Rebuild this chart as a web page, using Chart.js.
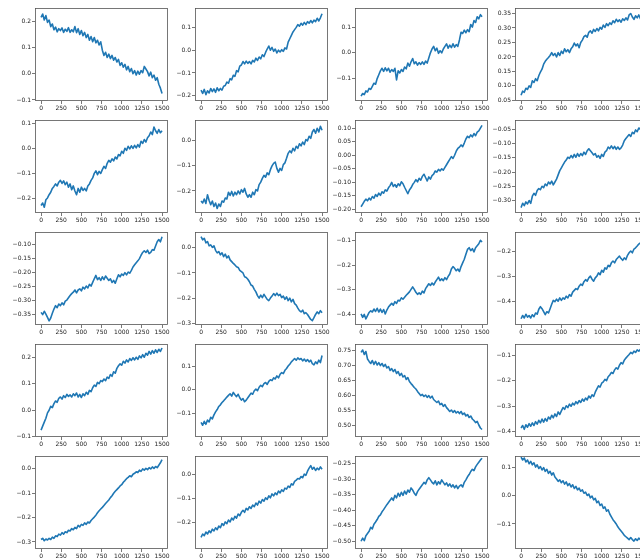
<!DOCTYPE html>
<html>
<head>
<meta charset="utf-8">
<script src="https://cdn.jsdelivr.net/npm/chart.js@4.4.1/dist/chart.umd.min.js"></script>
<style>
  html, body { margin: 0; padding: 0; background: #fff; overflow: hidden; width: 640px; height: 560px; }
  #grid { position: relative; width: 640px; height: 560px; overflow: hidden; }
  #grid canvas { position: absolute; }
</style>
</head>
<body>
<div id="grid"></div>
<script>
// Sample positions shared by every panel (0 … 1500, every 20 steps)
const steps = [
  0,20,40,60,80,100,120,140,160,180,
  200,220,240,260,280,300,320,340,360,380,
  400,420,440,460,480,500,520,540,560,580,
  600,620,640,660,680,700,720,740,760,780,
  800,820,840,860,880,900,920,940,960,980,
  1000,1020,1040,1060,1080,1100,1120,1140,1160,1180,
  1200,1220,1240,1260,1280,1300,1320,1340,1360,1380,
  1400,1420,1440,1460,1480,1500
];
const xTicks = [0, 250, 500, 750, 1000, 1250, 1500];

// Row 1
const runA = [
  0.215,0.228,0.205,0.222,0.196,0.205,0.18,0.19,0.168,0.178,
  0.16,0.172,0.165,0.175,0.158,0.17,0.162,0.176,0.158,0.168,
  0.16,0.18,0.157,0.172,0.15,0.165,0.145,0.158,0.138,0.15,
  0.128,0.142,0.122,0.138,0.118,0.128,0.11,0.122,0.09,0.07,
  0.082,0.062,0.075,0.058,0.07,0.052,0.062,0.045,0.055,0.032,
  0.042,0.025,0.036,0.015,0.028,0.008,0.02,0.0,0.012,-0.005,
  0.01,-0.002,0.012,0.004,0.028,0.018,0.008,-0.008,0.006,-0.015,
  -0.005,-0.025,-0.015,-0.04,-0.055,-0.075
];
const runB = [
  -0.175,-0.19,-0.172,-0.195,-0.178,-0.188,-0.168,-0.182,-0.17,-0.185,
  -0.165,-0.178,-0.168,-0.175,-0.158,-0.155,-0.14,-0.145,-0.125,-0.13,
  -0.11,-0.115,-0.09,-0.095,-0.07,-0.065,-0.05,-0.06,-0.048,-0.058,
  -0.05,-0.06,-0.045,-0.052,-0.035,-0.045,-0.03,-0.038,-0.02,-0.028,
  -0.01,0.005,0.018,0.0,0.012,-0.005,0.005,-0.012,0.0,-0.008,
  0.002,-0.005,0.01,0.005,0.035,0.05,0.065,0.08,0.09,0.1,
  0.112,0.105,0.118,0.11,0.122,0.112,0.125,0.118,0.13,0.12,
  0.132,0.125,0.14,0.128,0.142,0.16
];
const runC = [
  -0.168,-0.158,-0.162,-0.148,-0.152,-0.138,-0.142,-0.13,-0.118,-0.122,
  -0.1,-0.085,-0.07,-0.06,-0.072,-0.058,-0.07,-0.06,-0.075,-0.065,
  -0.072,-0.06,-0.105,-0.07,-0.078,-0.065,-0.072,-0.055,-0.062,-0.04,
  -0.052,-0.035,-0.022,-0.042,-0.035,-0.048,-0.038,-0.045,-0.035,-0.045,
  -0.032,-0.04,-0.02,0.0,0.015,0.025,0.008,0.018,-0.002,0.008,
  0.0,0.015,0.025,0.035,0.018,0.03,0.02,0.035,0.022,0.032,
  0.025,0.05,0.08,0.075,0.088,0.078,0.09,0.082,0.11,0.1,
  0.125,0.118,0.14,0.132,0.148,0.14
];
const runD = [
  0.068,0.082,0.078,0.092,0.088,0.1,0.095,0.118,0.112,0.125,
  0.118,0.135,0.148,0.158,0.175,0.185,0.192,0.198,0.205,0.215,
  0.205,0.212,0.2,0.215,0.205,0.22,0.212,0.228,0.218,0.225,
  0.215,0.228,0.235,0.248,0.238,0.245,0.232,0.25,0.258,0.27,
  0.275,0.268,0.285,0.29,0.282,0.295,0.288,0.298,0.29,0.302,
  0.296,0.31,0.302,0.315,0.308,0.318,0.312,0.325,0.318,0.33,
  0.322,0.328,0.32,0.332,0.326,0.335,0.328,0.345,0.35,0.338,
  0.33,0.342,0.335,0.345,0.332,0.34
];

// Row 2
const runE = [
  -0.228,-0.218,-0.235,-0.205,-0.198,-0.185,-0.175,-0.16,-0.152,-0.142,
  -0.15,-0.135,-0.128,-0.14,-0.13,-0.145,-0.135,-0.155,-0.142,-0.165,
  -0.15,-0.17,-0.185,-0.16,-0.175,-0.155,-0.168,-0.16,-0.17,-0.15,
  -0.142,-0.128,-0.118,-0.1,-0.09,-0.105,-0.092,-0.1,-0.085,-0.072,
  -0.08,-0.06,-0.048,-0.055,-0.042,-0.05,-0.035,-0.042,-0.025,-0.03,
  -0.012,-0.02,0.0,-0.008,0.008,-0.002,0.01,0.0,0.012,0.002,
  0.015,0.005,0.028,0.02,0.035,0.025,0.042,0.05,0.065,0.055,
  0.085,0.07,0.06,0.075,0.062,0.07
];
const runF = [
  -0.24,-0.248,-0.232,-0.25,-0.215,-0.238,-0.255,-0.24,-0.262,-0.248,
  -0.27,-0.252,-0.262,-0.24,-0.245,-0.228,-0.232,-0.205,-0.218,-0.202,
  -0.22,-0.205,-0.215,-0.2,-0.212,-0.195,-0.205,-0.19,-0.212,-0.225,
  -0.215,-0.225,-0.205,-0.215,-0.195,-0.2,-0.175,-0.165,-0.15,-0.138,
  -0.145,-0.128,-0.135,-0.115,-0.1,-0.09,-0.085,-0.11,-0.125,-0.11,
  -0.118,-0.095,-0.088,-0.07,-0.05,-0.04,-0.048,-0.03,-0.04,-0.022,
  -0.03,-0.012,-0.02,-0.005,-0.015,0.005,0.0,0.018,0.01,0.035,
  0.045,0.03,0.05,0.035,0.058,0.042
];
const runG = [
  -0.19,-0.18,-0.17,-0.162,-0.168,-0.158,-0.165,-0.152,-0.158,-0.145,
  -0.152,-0.14,-0.148,-0.135,-0.14,-0.128,-0.132,-0.12,-0.112,-0.1,
  -0.115,-0.108,-0.118,-0.105,-0.112,-0.098,-0.105,-0.118,-0.13,-0.142,
  -0.128,-0.12,-0.108,-0.1,-0.09,-0.098,-0.085,-0.092,-0.078,-0.07,
  -0.082,-0.095,-0.08,-0.088,-0.075,-0.07,-0.058,-0.062,-0.052,-0.058,
  -0.05,-0.055,-0.045,-0.035,-0.025,-0.015,-0.005,-0.012,0.0,0.015,
  0.025,0.03,0.038,0.032,0.045,0.06,0.07,0.065,0.075,0.068,
  0.08,0.072,0.085,0.09,0.1,0.11
];
const runH = [
  -0.325,-0.31,-0.318,-0.305,-0.312,-0.3,-0.31,-0.285,-0.275,-0.282,
  -0.265,-0.258,-0.262,-0.25,-0.255,-0.242,-0.248,-0.235,-0.242,-0.232,
  -0.245,-0.235,-0.225,-0.21,-0.195,-0.185,-0.175,-0.165,-0.158,-0.148,
  -0.152,-0.142,-0.15,-0.138,-0.148,-0.135,-0.145,-0.135,-0.142,-0.13,
  -0.138,-0.125,-0.118,-0.125,-0.132,-0.14,-0.135,-0.148,-0.142,-0.152,
  -0.138,-0.145,-0.13,-0.125,-0.112,-0.118,-0.108,-0.118,-0.11,-0.12,
  -0.112,-0.12,-0.115,-0.105,-0.09,-0.082,-0.075,-0.068,-0.075,-0.06,
  -0.065,-0.052,-0.058,-0.045,-0.05,-0.04
];

// Row 3
const runI = [
  -0.342,-0.35,-0.338,-0.348,-0.36,-0.372,-0.362,-0.345,-0.33,-0.318,
  -0.325,-0.312,-0.318,-0.308,-0.315,-0.302,-0.298,-0.29,-0.282,-0.275,
  -0.27,-0.262,-0.272,-0.262,-0.258,-0.265,-0.252,-0.258,-0.248,-0.255,
  -0.242,-0.248,-0.235,-0.222,-0.21,-0.225,-0.218,-0.228,-0.215,-0.225,
  -0.212,-0.22,-0.228,-0.222,-0.235,-0.228,-0.238,-0.222,-0.208,-0.215,
  -0.205,-0.21,-0.2,-0.208,-0.198,-0.202,-0.192,-0.18,-0.172,-0.165,
  -0.158,-0.15,-0.138,-0.128,-0.122,-0.128,-0.12,-0.132,-0.128,-0.118,
  -0.12,-0.105,-0.09,-0.082,-0.09,-0.072
];
const runJ = [
  0.045,0.032,0.038,0.02,0.025,0.008,0.012,0.002,0.008,-0.01,
  -0.02,-0.015,-0.028,-0.02,-0.035,-0.025,-0.04,-0.032,-0.048,-0.055,
  -0.062,-0.068,-0.075,-0.078,-0.09,-0.095,-0.1,-0.115,-0.118,-0.125,
  -0.135,-0.148,-0.152,-0.165,-0.175,-0.19,-0.2,-0.188,-0.198,-0.185,
  -0.195,-0.205,-0.21,-0.2,-0.192,-0.182,-0.19,-0.18,-0.19,-0.185,
  -0.198,-0.192,-0.205,-0.195,-0.21,-0.2,-0.215,-0.205,-0.222,-0.228,
  -0.24,-0.25,-0.255,-0.248,-0.262,-0.258,-0.265,-0.275,-0.285,-0.29,
  -0.278,-0.265,-0.255,-0.262,-0.25,-0.258
];
const runK = [
  -0.398,-0.412,-0.4,-0.418,-0.405,-0.392,-0.385,-0.39,-0.378,-0.388,
  -0.375,-0.39,-0.378,-0.392,-0.38,-0.398,-0.382,-0.37,-0.362,-0.355,
  -0.362,-0.348,-0.355,-0.342,-0.345,-0.332,-0.338,-0.33,-0.322,-0.315,
  -0.308,-0.298,-0.288,-0.298,-0.31,-0.318,-0.312,-0.318,-0.305,-0.312,
  -0.295,-0.285,-0.275,-0.282,-0.272,-0.28,-0.268,-0.258,-0.248,-0.262,
  -0.255,-0.262,-0.25,-0.258,-0.245,-0.235,-0.215,-0.205,-0.212,-0.222,
  -0.215,-0.225,-0.205,-0.19,-0.175,-0.155,-0.135,-0.128,-0.14,-0.132,
  -0.145,-0.128,-0.12,-0.112,-0.098,-0.105
];
const runL = [
  -0.468,-0.455,-0.465,-0.45,-0.462,-0.455,-0.465,-0.452,-0.46,-0.445,
  -0.45,-0.43,-0.42,-0.428,-0.44,-0.452,-0.44,-0.445,-0.428,-0.41,
  -0.395,-0.4,-0.39,-0.398,-0.385,-0.395,-0.385,-0.39,-0.378,-0.385,
  -0.372,-0.378,-0.362,-0.355,-0.348,-0.352,-0.338,-0.33,-0.335,-0.32,
  -0.312,-0.318,-0.305,-0.298,-0.31,-0.318,-0.305,-0.298,-0.285,-0.292,
  -0.275,-0.282,-0.265,-0.27,-0.255,-0.26,-0.245,-0.238,-0.245,-0.232,
  -0.225,-0.218,-0.228,-0.235,-0.225,-0.232,-0.215,-0.205,-0.198,-0.205,
  -0.19,-0.185,-0.178,-0.17,-0.165,-0.16
];

// Row 4
const runM = [
  -0.075,-0.06,-0.045,-0.03,-0.01,0.0,0.015,0.01,0.025,0.035,
  0.03,0.045,0.05,0.042,0.055,0.048,0.06,0.052,0.058,0.05,
  0.062,0.055,0.065,0.05,0.06,0.048,0.062,0.055,0.068,0.06,
  0.075,0.07,0.085,0.095,0.09,0.105,0.1,0.112,0.108,0.118,
  0.112,0.125,0.12,0.135,0.128,0.145,0.14,0.158,0.168,0.175,
  0.17,0.185,0.178,0.19,0.182,0.195,0.188,0.198,0.19,0.2,
  0.192,0.205,0.198,0.21,0.2,0.215,0.208,0.222,0.212,0.225,
  0.215,0.228,0.218,0.23,0.222,0.235
];
const runN = [
  -0.14,-0.152,-0.135,-0.148,-0.13,-0.138,-0.118,-0.125,-0.108,-0.095,
  -0.085,-0.072,-0.065,-0.055,-0.048,-0.04,-0.032,-0.025,-0.018,-0.028,
  -0.012,-0.022,-0.03,-0.02,-0.035,-0.045,-0.038,-0.052,-0.045,-0.035,
  -0.025,-0.015,-0.02,-0.005,0.002,-0.005,0.01,0.018,0.012,0.025,
  0.03,0.022,0.035,0.042,0.038,0.05,0.045,0.058,0.05,0.065,
  0.072,0.068,0.082,0.09,0.1,0.108,0.118,0.125,0.132,0.125,
  0.135,0.128,0.132,0.122,0.13,0.12,0.128,0.118,0.125,0.11,
  0.105,0.118,0.11,0.125,0.115,0.145
];
const runO = [
  0.742,0.75,0.735,0.745,0.72,0.712,0.705,0.715,0.702,0.712,
  0.7,0.708,0.698,0.705,0.695,0.702,0.69,0.695,0.682,0.688,
  0.678,0.685,0.672,0.678,0.665,0.672,0.66,0.665,0.652,0.658,
  0.645,0.638,0.632,0.625,0.62,0.612,0.605,0.598,0.602,0.595,
  0.6,0.592,0.598,0.59,0.596,0.585,0.58,0.575,0.58,0.568,
  0.572,0.562,0.568,0.558,0.552,0.545,0.55,0.542,0.548,0.54,
  0.545,0.538,0.545,0.535,0.54,0.53,0.535,0.525,0.53,0.52,
  0.515,0.508,0.512,0.5,0.49,0.485
];
const runP = [
  -0.385,-0.375,-0.39,-0.372,-0.382,-0.368,-0.378,-0.365,-0.375,-0.36,
  -0.37,-0.355,-0.365,-0.35,-0.362,-0.348,-0.358,-0.342,-0.35,-0.335,
  -0.345,-0.33,-0.34,-0.322,-0.332,-0.318,-0.305,-0.312,-0.298,-0.305,
  -0.292,-0.3,-0.288,-0.295,-0.282,-0.29,-0.278,-0.285,-0.272,-0.28,
  -0.268,-0.275,-0.26,-0.268,-0.255,-0.262,-0.245,-0.232,-0.22,-0.225,
  -0.21,-0.205,-0.195,-0.2,-0.185,-0.178,-0.168,-0.172,-0.158,-0.15,
  -0.155,-0.14,-0.13,-0.135,-0.12,-0.112,-0.105,-0.098,-0.09,-0.095,
  -0.085,-0.09,-0.08,-0.085,-0.078,-0.082
];

// Row 5
const runQ = [
  -0.29,-0.285,-0.295,-0.288,-0.292,-0.285,-0.29,-0.28,-0.285,-0.275,
  -0.278,-0.268,-0.272,-0.262,-0.268,-0.258,-0.262,-0.252,-0.255,-0.245,
  -0.25,-0.24,-0.245,-0.232,-0.238,-0.228,-0.232,-0.222,-0.228,-0.218,
  -0.222,-0.212,-0.205,-0.198,-0.19,-0.18,-0.172,-0.165,-0.158,-0.15,
  -0.142,-0.135,-0.128,-0.118,-0.11,-0.1,-0.092,-0.085,-0.078,-0.07,
  -0.065,-0.055,-0.048,-0.04,-0.035,-0.028,-0.032,-0.022,-0.018,-0.012,
  -0.015,-0.005,-0.01,0.0,-0.005,0.002,-0.003,0.005,0.0,0.008,
  0.002,0.01,0.005,0.015,0.025,0.038
];
const runR = [
  -0.262,-0.248,-0.255,-0.24,-0.248,-0.235,-0.242,-0.228,-0.235,-0.222,
  -0.23,-0.215,-0.222,-0.205,-0.212,-0.198,-0.205,-0.19,-0.198,-0.182,
  -0.19,-0.175,-0.182,-0.165,-0.172,-0.158,-0.15,-0.158,-0.142,-0.148,
  -0.135,-0.142,-0.128,-0.135,-0.12,-0.128,-0.112,-0.12,-0.105,-0.112,
  -0.098,-0.105,-0.09,-0.098,-0.082,-0.09,-0.078,-0.085,-0.07,-0.078,
  -0.065,-0.072,-0.058,-0.062,-0.05,-0.055,-0.04,-0.045,-0.03,-0.025,
  -0.018,-0.02,-0.01,-0.015,0.0,-0.005,0.012,0.025,0.035,0.02,
  0.028,0.015,0.025,0.018,0.03,0.02
];
const runS = [
  -0.5,-0.49,-0.498,-0.482,-0.475,-0.468,-0.455,-0.46,-0.445,-0.438,
  -0.43,-0.42,-0.415,-0.405,-0.398,-0.39,-0.382,-0.375,-0.368,-0.36,
  -0.368,-0.352,-0.36,-0.345,-0.355,-0.342,-0.352,-0.338,-0.348,-0.335,
  -0.342,-0.328,-0.335,-0.345,-0.352,-0.34,-0.332,-0.325,-0.318,-0.31,
  -0.315,-0.302,-0.295,-0.302,-0.31,-0.315,-0.305,-0.318,-0.308,-0.315,
  -0.302,-0.31,-0.318,-0.312,-0.322,-0.315,-0.325,-0.318,-0.328,-0.32,
  -0.33,-0.322,-0.318,-0.325,-0.31,-0.302,-0.292,-0.285,-0.275,-0.268,
  -0.272,-0.26,-0.252,-0.245,-0.238,-0.232
];
const runT = [
  0.135,0.125,0.132,0.118,0.125,0.112,0.12,0.108,0.115,0.1,
  0.108,0.095,0.102,0.09,0.098,0.085,0.092,0.078,0.085,0.072,
  0.08,0.065,0.058,0.05,0.055,0.045,0.052,0.04,0.048,0.035,
  0.042,0.03,0.038,0.025,0.032,0.02,0.026,0.015,0.02,0.008,
  0.012,0.0,0.005,-0.008,-0.002,-0.015,-0.01,-0.025,-0.02,-0.035,
  -0.03,-0.045,-0.04,-0.055,-0.05,-0.065,-0.075,-0.085,-0.092,-0.1,
  -0.11,-0.118,-0.125,-0.132,-0.14,-0.145,-0.15,-0.155,-0.148,-0.155,
  -0.16,-0.152,-0.158,-0.15,-0.155,-0.148
];

// y tick labels of each panel
const yTicksA = [-0.1, 0.0, 0.1, 0.2];
const yTicksB = [-0.2, -0.1, 0.0, 0.1];
const yTicksC = [-0.1, 0.0, 0.1];
const yTicksD = [0.05, 0.10, 0.15, 0.20, 0.25, 0.30, 0.35];
const yTicksE = [-0.2, -0.1, 0.0, 0.1];
const yTicksF = [-0.2, -0.1, 0.0];
const yTicksG = [-0.20, -0.15, -0.10, -0.05, 0.00, 0.05, 0.10];
const yTicksH = [-0.30, -0.25, -0.20, -0.15, -0.10, -0.05];
const yTicksI = [-0.35, -0.30, -0.25, -0.20, -0.15, -0.10];
const yTicksJ = [-0.3, -0.2, -0.1, 0.0];
const yTicksK = [-0.4, -0.3, -0.2, -0.1];
const yTicksL = [-0.4, -0.3, -0.2];
const yTicksM = [-0.1, 0.0, 0.1, 0.2];
const yTicksN = [-0.1, 0.0, 0.1];
const yTicksO = [0.50, 0.55, 0.60, 0.65, 0.70, 0.75];
const yTicksP = [-0.4, -0.3, -0.2, -0.1];
const yTicksQ = [-0.3, -0.2, -0.1, 0.0];
const yTicksR = [-0.2, -0.1, 0.0];
const yTicksS = [-0.50, -0.45, -0.40, -0.35, -0.30, -0.25];
const yTicksT = [-0.1, 0.0, 0.1];

// Panel list, row by row
const panels = [
  { values: runA, yTicks: yTicksA, yMin: -0.104, yMax: 0.251, digits: 1 },
  { values: runB, yTicks: yTicksB, yMin: -0.223, yMax: 0.185, digits: 1 },
  { values: runC, yTicks: yTicksC, yMin: -0.187, yMax: 0.174, digits: 1 },
  { values: runD, yTicks: yTicksD, yMin: 0.048, yMax: 0.369, digits: 2 },
  { values: runE, yTicks: yTicksE, yMin: -0.258, yMax: 0.113, digits: 1 },
  { values: runF, yTicks: yTicksF, yMin: -0.288, yMax: 0.083, digits: 1 },
  { values: runG, yTicks: yTicksG, yMin: -0.213, yMax: 0.130, digits: 2 },
  { values: runH, yTicks: yTicksH, yMin: -0.344, yMax: -0.017, digits: 2 },
  { values: runI, yTicks: yTicksI, yMin: -0.387, yMax: -0.055, digits: 2 },
  { values: runJ, yTicks: yTicksJ, yMin: -0.307, yMax: 0.063, digits: 1 },
  { values: runK, yTicks: yTicksK, yMin: -0.443, yMax: -0.064, digits: 1 },
  { values: runL, yTicks: yTicksL, yMin: -0.493, yMax: -0.122, digits: 1 },
  { values: runM, yTicks: yTicksM, yMin: -0.101, yMax: 0.250, digits: 1 },
  { values: runN, yTicks: yTicksN, yMin: -0.202, yMax: 0.194, digits: 1 },
  { values: runO, yTicks: yTicksO, yMin: 0.460, yMax: 0.770, digits: 2 },
  { values: runP, yTicks: yTicksP, yMin: -0.420, yMax: -0.057, digits: 1 },
  { values: runQ, yTicks: yTicksQ, yMin: -0.329, yMax: 0.053, digits: 1 },
  { values: runR, yTicks: yTicksR, yMin: -0.310, yMax: 0.075, digits: 1 },
  { values: runS, yTicks: yTicksS, yMin: -0.525, yMax: -0.225, digits: 2 },
  { values: runT, yTicks: yTicksT, yMin: -0.188, yMax: 0.139, digits: 1 }
];

// Grid geometry (plot-area corners)
const colLeft = [35, 195, 355, 515];
const rowTop = [8, 120, 232, 344, 456];
const plotW = 133, plotH = 93;
const padL = 35, padT = 8, padR = 10, padB = 14;

const LINE = '#1f77b4';
const AXIS = '#555';
const TEXT = '#222';
const tickFont = { family: 'DejaVu Sans', size: 6 };

// Closed frame round each plot area (all four spines)
const framePlugin = {
  id: 'frame',
  afterDraw(chart) {
    const { ctx, chartArea: a } = chart;
    ctx.save();
    ctx.strokeStyle = AXIS;
    ctx.lineWidth = 0.8;
    ctx.strokeRect(a.left + 0.5, a.top + 0.5, a.right - a.left - 1, a.bottom - a.top - 1);
    ctx.restore();
  }
};

const fmt = (v, d) => v.toFixed(d).replace('-', '\u2212');

const grid = document.getElementById('grid');
panels.forEach((p, i) => {
  const row = Math.floor(i / 4), col = i % 4;
  const w = padL + plotW + padR, h = padT + plotH + padB;
  const cv = document.createElement('canvas');
  cv.width = w; cv.height = h;
  cv.style.width = w + 'px'; cv.style.height = h + 'px';
  cv.style.left = (colLeft[col] - padL) + 'px';
  cv.style.top = (rowTop[row] - padT) + 'px';
  grid.appendChild(cv);

  new Chart(cv, {
    type: 'line',
    data: {
      datasets: [{
        data: steps.map((x, k) => ({ x: x, y: p.values[k] })),
        borderColor: LINE,
        borderWidth: 1.6,
        borderJoinStyle: 'round',
        pointRadius: 0,
        tension: 0,
        fill: false
      }]
    },
    options: {
      responsive: false,
      animation: false,
      devicePixelRatio: 1,
      events: [],
      layout: { padding: { left: 0, top: padT, right: padR, bottom: 0 } },
      plugins: { legend: { display: false }, tooltip: { enabled: false } },
      scales: {
        x: {
          type: 'linear',
          min: -75, max: 1574,
          afterBuildTicks: s => { s.ticks = xTicks.map(v => ({ value: v })); },
          afterFit: s => { s.height = padB; s.paddingLeft = 0; s.paddingRight = 0; },
          ticks: { font: tickFont, color: TEXT, padding: 1, maxRotation: 0, autoSkip: false,
                   callback: v => String(v) },
          grid: { drawOnChartArea: false, drawTicks: true, tickLength: 3, tickColor: AXIS, tickWidth: 0.8 },
          border: { display: false }
        },
        y: {
          type: 'linear',
          min: p.yMin, max: p.yMax,
          afterBuildTicks: s => { s.ticks = p.yTicks.map(v => ({ value: v })); },
          afterFit: s => { s.width = padL; s.paddingTop = 0; s.paddingBottom = 0; },
          ticks: { font: tickFont, color: TEXT, padding: 1, autoSkip: false,
                   callback: v => fmt(v, p.digits) },
          grid: { drawOnChartArea: false, drawTicks: true, tickLength: 3, tickColor: AXIS, tickWidth: 0.8 },
          border: { display: false }
        }
      }
    },
    plugins: [framePlugin]
  });
});
</script>
</body>
</html>
